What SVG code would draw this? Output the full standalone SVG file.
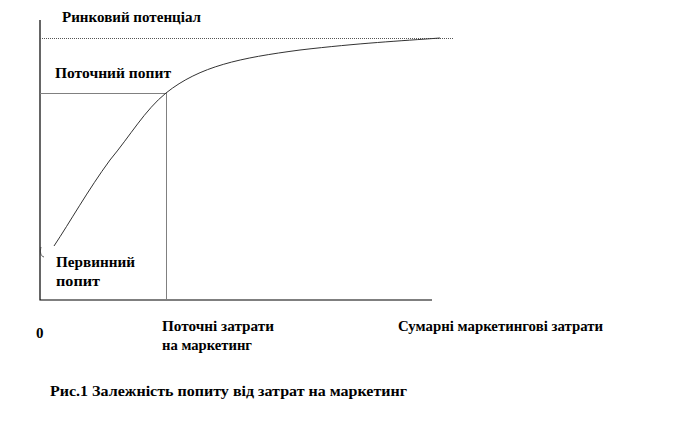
<svg xmlns="http://www.w3.org/2000/svg" width="680" height="429" viewBox="0 0 680 429">
<style>
text{font-family:'Liberation Serif','DejaVu Serif',serif;font-weight:bold;font-size:15px;fill:#000}
.ax{stroke:#000;stroke-width:1.2;fill:none}
.gr{stroke:#808080;stroke-width:1;fill:none}
</style>
<rect width="680" height="429" fill="#fff"/>
<g id="axes">
<path class="ax" d="M40,20 V300 H432"/>
</g>
<g id="connectors">
<path d="M40,38.5 H453" stroke="#555" stroke-width="1" stroke-dasharray="1,1" fill="none"/>
<path class="gr" d="M40,93.5 H166 M166.5,93 V300"/>
<path d="M54,246 C70,222 88,190 110,160 C130,136 145,110 166,93 C200,66 240,58 300,50 C360,43 400,41 440,38" stroke="#333" stroke-width="1" fill="none"/>
<path d="M41,247 C40,251 40,256 44,257" stroke="#333" stroke-width="0.8" fill="none"/>
</g>
<g id="labels">
<text x="62" y="22" textLength="139" lengthAdjust="spacingAndGlyphs">Ринковий потенціал</text>
<text x="55" y="78" textLength="116" lengthAdjust="spacingAndGlyphs">Поточний попит</text>
<text x="56" y="267" textLength="79" lengthAdjust="spacingAndGlyphs">Первинний</text>
<text x="56" y="286" textLength="44" lengthAdjust="spacingAndGlyphs">попит</text>
<text x="36" y="338" font-size="16">0</text>
<text x="162" y="331" textLength="112" lengthAdjust="spacingAndGlyphs">Поточні затрати</text>
<text x="162" y="350" textLength="90" lengthAdjust="spacingAndGlyphs">на маркетинг</text>
<text x="398" y="331" textLength="205" lengthAdjust="spacingAndGlyphs">Сумарні маркетингові затрати</text>
<text x="50" y="396" textLength="357" lengthAdjust="spacingAndGlyphs">Рис.1 Залежність попиту від затрат на маркетинг</text>
</g>
</svg>
